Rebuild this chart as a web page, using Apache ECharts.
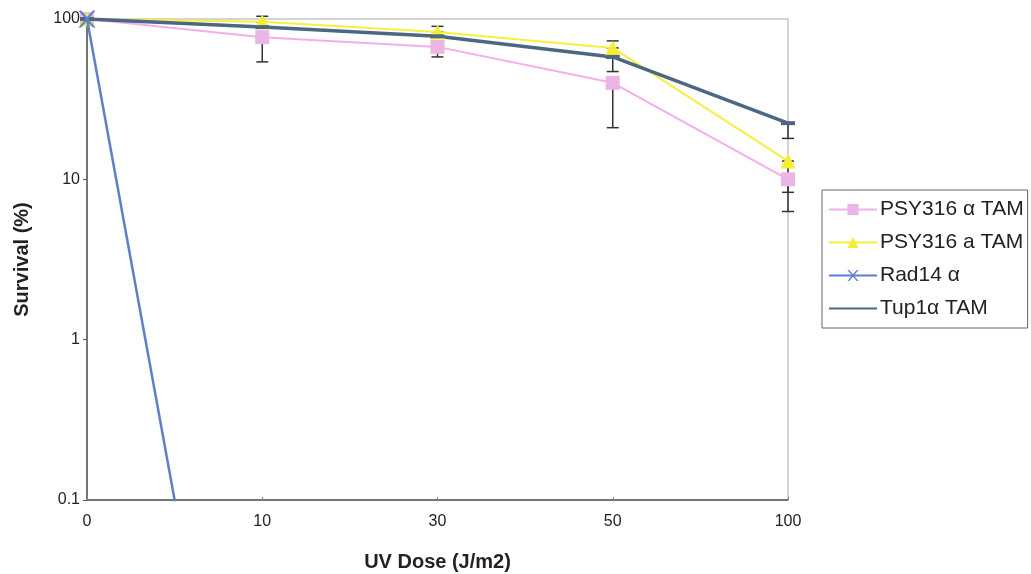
<!DOCTYPE html>
<html>
<head>
<meta charset="utf-8">
<script src="https://cdn.jsdelivr.net/npm/echarts@6/dist/echarts.min.js"></script>
<style>
  html, body { margin: 0; padding: 0; background: #fff; }
  #chart { width: 1031px; height: 574px; }
</style>
</head>
<body>
<div id="chart"></div>
<script>
// UV dose categories
const doses = ['0', '10', '30', '50', '100']

// survival (%) per strain
const psyAlpha = [100, 77, 67, 40, 10]
const psyA = [100, 96, 83, 66, 13]
const rad14 = [100, 0.0001, null, null, null]
const tup1 = [100, 89, 78, 58, 22.4]

// error bars: [dose index, low, high]
const psyAlphaErr = [[1, 54, 77], [2, 58, 67], [3, 21, 40], [4, 6.3, 10]]
const psyAErr = [[1, 96, 104], [2, 83, 90], [3, 66, 73], [4, 8.3, 13]]
const tup1Err = [[3, 47, 58], [4, 18, 22.4]]

const yTicks = [0.1, 1, 10, 100]

const chart = echarts.init(document.getElementById('chart'))

const errSeries = (data) => ({
  type: 'custom',
  silent: true,
  z: 1,
  data: data,
  renderItem: (params, api) => {
    const x = api.value(0)
    const lo = api.coord([x, api.value(1)])
    const hi = api.coord([x, api.value(2)])
    const cap = 6
    const style = { stroke: '#333', lineWidth: 1.5 }
    return {
      type: 'group',
      children: [
        { type: 'line', shape: { x1: lo[0], y1: lo[1], x2: hi[0], y2: hi[1] }, style },
        { type: 'line', shape: { x1: lo[0] - cap, y1: lo[1], x2: lo[0] + cap, y2: lo[1] }, style },
        { type: 'line', shape: { x1: hi[0] - cap, y1: hi[1], x2: hi[0] + cap, y2: hi[1] }, style }
      ]
    }
  }
})

const font = 'Liberation Sans, Arial, sans-serif'

const option = {
  backgroundColor: '#fff',
  animation: false,
  textStyle: { fontFamily: font },
  grid: {
    left: 87, right: 243, top: 19, bottom: 74,
    outerBoundsMode: 'none',
    containLabel: false,
    show: true, borderColor: '#aaa', borderWidth: 1
  },
  legend: {
    orient: 'vertical',
    left: 822, top: 190,
    width: 207,
    padding: [9, 4, 9, 6],
    borderColor: '#666', borderWidth: 1,
    itemWidth: 48, itemHeight: 14, itemGap: 12,
    textStyle: { fontSize: 21, color: '#222', fontFamily: font, padding: [0, 0, 0, -2] },
    data: [
      'PSY316 α TAM',
      'PSY316 a TAM',
      'Rad14 α',
      { name: 'Tup1α TAM', itemStyle: { opacity: 0 } }
    ]
  },
  xAxis: {
    type: 'category',
    data: doses,
    boundaryGap: false,
    name: 'UV Dose (J/m2)',
    nameLocation: 'middle',
    nameGap: 52,
    nameTextStyle: { fontSize: 20, fontWeight: 'bold', color: '#222' },
    axisLine: { lineStyle: { color: '#555', width: 1.5 } },
    axisTick: { show: true, inside: true, length: 3, alignWithLabel: true, lineStyle: { color: '#888' } },
    axisLabel: { fontSize: 16, color: '#222', margin: 14 },
    splitLine: { show: false }
  },
  yAxis: {
    type: 'log',
    logBase: 10,
    min: 0.1,
    max: 100,
    name: 'Survival (%)',
    nameLocation: 'middle',
    nameGap: 55,
    nameRotate: 90,
    nameTextStyle: { fontSize: 20, fontWeight: 'bold', color: '#222' },
    axisLine: { show: true, lineStyle: { color: '#555', width: 1.5 } },
    axisTick: { show: true, length: 4, lineStyle: { color: '#555' } },
    axisLabel: {
      fontSize: 16, color: '#222', margin: 7,
      formatter: (v) => (yTicks.some(t => Math.abs(t - v) < 1e-9) ? String(v) : '')
    },
    splitLine: { show: false }
  },
  series: [
    {
      name: 'PSY316 α TAM', type: 'line', data: psyAlpha, z: 2,
      symbol: 'rect', symbolSize: 14,
      lineStyle: { color: '#f4aeea', width: 2 },
      itemStyle: { color: '#ebb6e5' }
    },
    {
      name: 'PSY316 a TAM', type: 'line', data: psyA, z: 3,
      symbol: 'triangle', symbolSize: 15,
      lineStyle: { color: '#f7f03c', width: 2 },
      itemStyle: { color: '#f5ee2a' }
    },
    {
      name: 'Rad14 α', type: 'line', data: rad14, z: 4, clip: true,
      symbol: 'path://M0,0 L3,0 L10,7 L17,0 L20,0 L11.5,9 L20,18 L17,18 L10,11 L3,18 L0,18 L8.5,9 Z',
      symbolSize: 17,
      lineStyle: { color: '#5b7ed8', width: 2.5 },
      itemStyle: { color: '#5b7ed8' }
    },
    {
      name: 'Tup1α TAM', type: 'line', data: tup1, z: 3,
      symbol: 'rect', symbolSize: [14, 4],
      lineStyle: { color: '#4b6784', width: 3.5 },
      itemStyle: { color: '#4b6784' }
    },
    errSeries(psyAlphaErr),
    errSeries(psyAErr),
    errSeries(tup1Err)
  ]
}

chart.setOption(option)
</script>
</body>
</html>
